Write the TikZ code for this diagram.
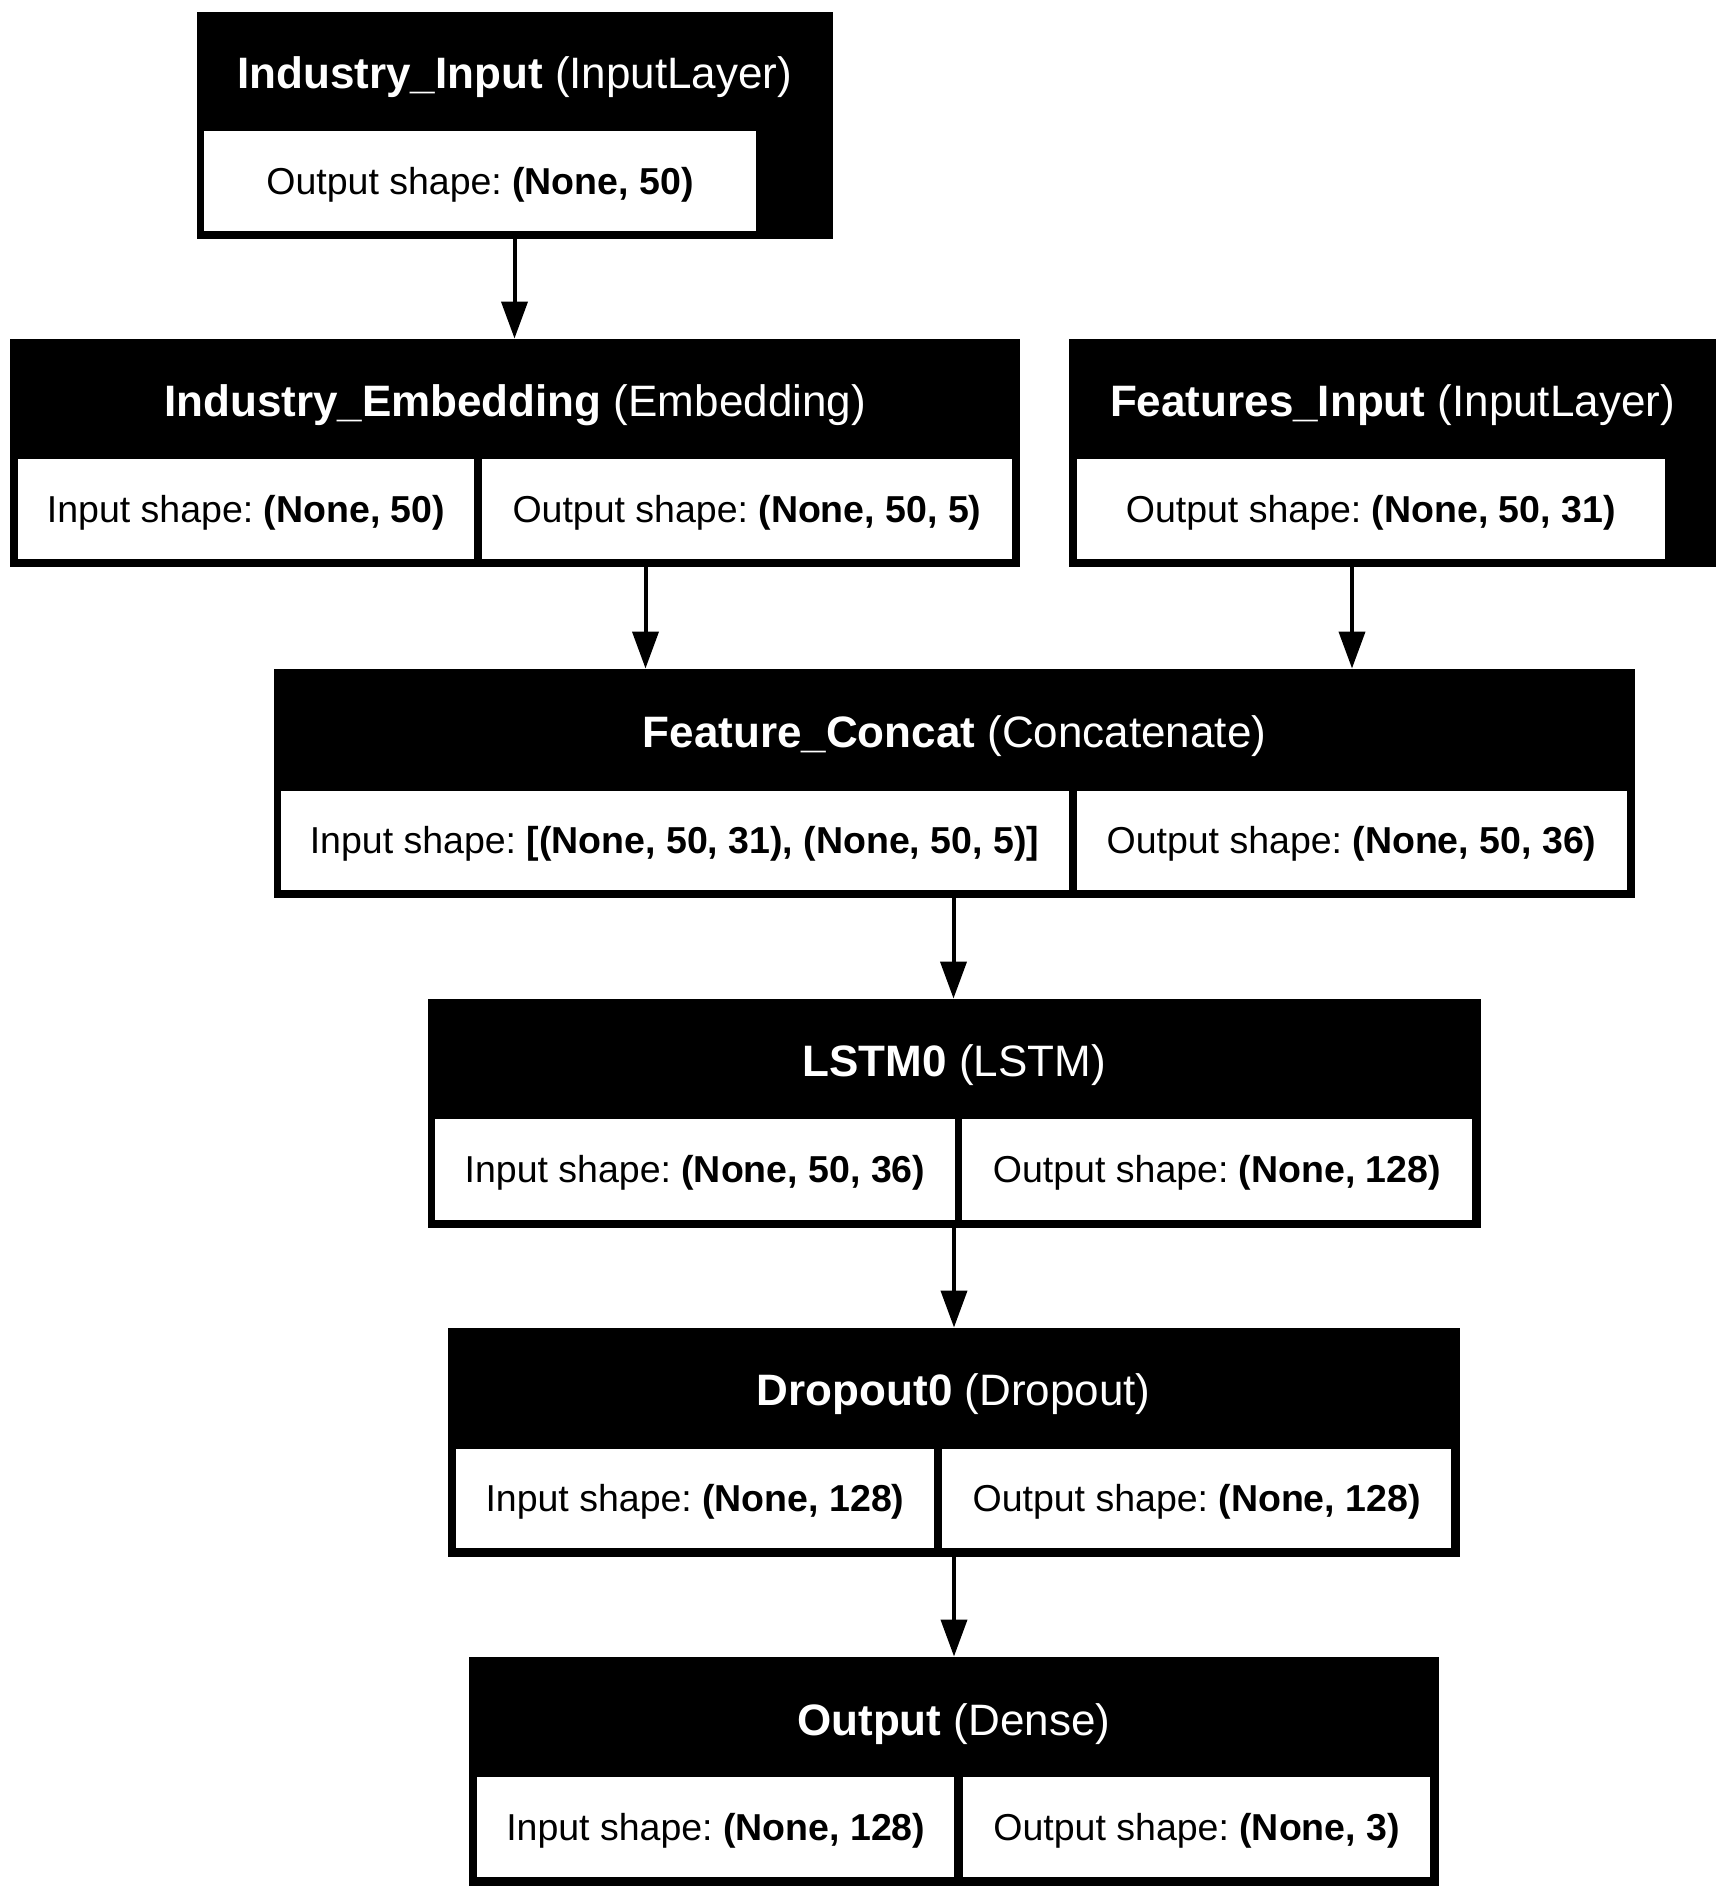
\documentclass[tikz,border=0pt]{standalone}
\usepackage{fontspec}
\setmainfont{Liberation Sans}
\frenchspacing
\usetikzlibrary{fit,arrows.meta,calc}
\begin{document}
\begin{tikzpicture}[x=0.5pt,y=-0.5pt,
  outerbox/.style={fill=black, draw=none, inner sep=0pt, outer sep=0pt},
  cellbox/.style={fill=white, draw=none, inner sep=0pt, outer sep=0pt},
  titletext/.style={text=white, anchor=base, inner sep=0pt, font=\fontsize{22}{26}\selectfont\frenchspacing},
  celltext/.style={text=black, anchor=base, inner sep=0pt, font=\fontsize{18.75}{22}\selectfont\frenchspacing},
  arr/.style={line width=2pt, -{Triangle[length=18.5pt,width=13pt]}}
]
\useasboundingbox[fill=white] (0,0) rectangle (1726,1897);

% Industry_Input
\node[outerbox, fit={(196.5,11.5) (833,238.5)}] (n1) {};
\node[cellbox, fit={(204,131) (756,230.5)}] (c1a) {};
\node[titletext] (t1) at (514.75,88) {\textbf{Industry\_Input} (InputLayer)};
\node[celltext] (c1at) at ($(c1a.center)+(0,13.5)$) {Output shape: \textbf{(None, 50)}};

% Industry_Embedding
\node[outerbox, fit={(10,338.5) (1020,567)}] (n2) {};
\node[cellbox, fit={(18,459) (474,558.5)}] (c2a) {};
\node[cellbox, fit={(482,459) (1012,558.5)}] (c2b) {};
\node[titletext] (t2) at (515,416) {\textbf{Industry\_Embedding} (Embedding)};
\node[celltext] (c2at) at ($(c2a.center)+(0,13.5)$) {Input shape: \textbf{(None, 50)}};
\node[celltext] (c2bt) at ($(c2b.center)+(0,13.5)$) {Output shape: \textbf{(None, 50, 5)}};

% Features_Input
\node[outerbox, fit={(1069,338.5) (1716,567)}] (n3) {};
\node[cellbox, fit={(1076.5,459) (1665,558.5)}] (c3a) {};
\node[titletext] (t3) at (1392.5,416) {\textbf{Features\_Input} (InputLayer)};
\node[celltext] (c3at) at ($(c3a.center)+(0,13.5)$) {Output shape: \textbf{(None, 50, 31)}};

% Feature_Concat
\node[outerbox, fit={(274,668.5) (1635,898)}] (n4) {};
\node[cellbox, fit={(280.5,790.5) (1068.5,890)}] (c4a) {};
\node[cellbox, fit={(1076.5,790.5) (1626.5,890)}] (c4b) {};
\node[titletext] (t4) at (954.5,747) {\textbf{Feature\_Concat} (Concatenate)};
\node[celltext] (c4at) at ($(c4a.center)+(0,13.5)$) {Input shape: \textbf{[(None, 50, 31), (None, 50, 5)]}};
\node[celltext] (c4bt) at ($(c4b.center)+(0,13.5)$) {Output shape: \textbf{(None, 50, 36)}};

% LSTM0
\node[outerbox, fit={(428,998.5) (1480.5,1227.5)}] (n5) {};
\node[cellbox, fit={(435,1119) (955,1219.5)}] (c5a) {};
\node[cellbox, fit={(962,1119) (1472,1219.5)}] (c5b) {};
\node[titletext] (t5) at (954.25,1076.5) {\textbf{LSTM0} (LSTM)};
\node[celltext] (c5at) at ($(c5a.center)+(0,13.5)$) {Input shape: \textbf{(None, 50, 36)}};
\node[celltext] (c5bt) at ($(c5b.center)+(0,13.5)$) {Output shape: \textbf{(None, 128)}};

% Dropout0
\node[outerbox, fit={(448,1327.5) (1459.5,1556.5)}] (n6) {};
\node[cellbox, fit={(456,1448.5) (934,1548.3)}] (c6a) {};
\node[cellbox, fit={(942.3,1448.5) (1451,1548.3)}] (c6b) {};
\node[titletext] (t6) at (953.75,1405.5) {\textbf{Dropout0} (Dropout)};
\node[celltext] (c6at) at ($(c6a.center)+(0,13.5)$) {Input shape: \textbf{(None, 128)}};
\node[celltext] (c6bt) at ($(c6b.center)+(0,13.5)$) {Output shape: \textbf{(None, 128)}};

% Output
\node[outerbox, fit={(469,1656.5) (1438.5,1886)}] (n7) {};
\node[cellbox, fit={(477.3,1777.3) (954.2,1877.3)}] (c7a) {};
\node[cellbox, fit={(963.3,1777.3) (1430,1877.3)}] (c7b) {};
\node[titletext] (t7) at (953.75,1735) {\textbf{Output} (Dense)};
\node[celltext] (c7at) at ($(c7a.center)+(0,13.5)$) {Input shape: \textbf{(None, 128)}};
\node[celltext] (c7bt) at ($(c7b.center)+(0,13.5)$) {Output shape: \textbf{(None, 3)}};

% arrow x positions
\coordinate (x1) at (514.5,0);
\coordinate (x2) at (645.5,0);
\coordinate (x3) at (1352,0);
\coordinate (x4) at (953.5,0);
\coordinate (x5) at (954,0);

\draw[arr] (n1.south -| x1) -- (n2.north -| x1);
\draw[arr] (n2.south -| x2) -- (n4.north -| x2);
\draw[arr] (n3.south -| x3) -- (n4.north -| x3);
\draw[arr] (n4.south -| x4) -- (n5.north -| x4);
\draw[arr] (n5.south -| x5) -- (n6.north -| x5);
\draw[arr] (n6.south -| x5) -- (n7.north -| x5);
\end{tikzpicture}
\end{document}
